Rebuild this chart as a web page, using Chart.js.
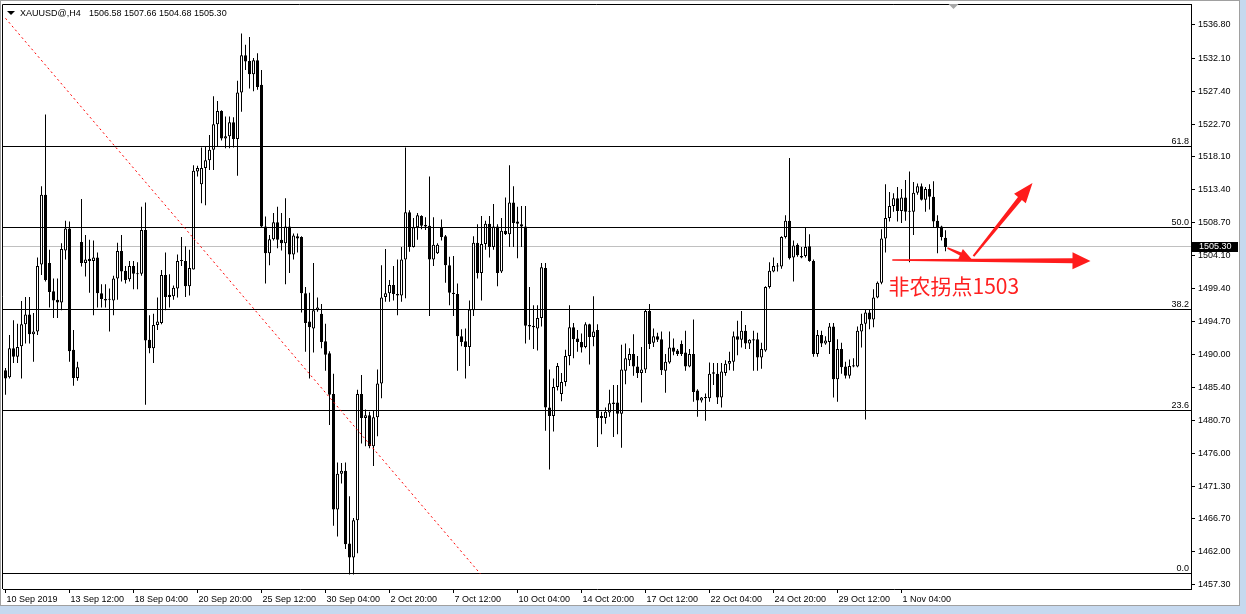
<!DOCTYPE html>
<html>
<head>
<meta charset="utf-8">
<script src="https://cdn.jsdelivr.net/npm/chart.js@4.4.1/dist/chart.umd.min.js"></script>
<style>
  html, body { margin: 0; padding: 0; background: #fff; }
</style>
</head>
<body>
<canvas id="priceChart" width="1246" height="614"></canvas>
<script>
// XAUUSD H4 candles (bar 0 = 10 Sep 2019 20:00)
const opens = [
  1487.8, 1486.8, 1490.9, 1489.7, 1491.2, 1494.3, 1495.7, 1492.9, 1493.3, 1502.8, 1512.7, 1503.0,
  1499.0, 1497.8, 1497.4, 1504.8, 1507.9, 1490.7, 1486.7, 1506.0, 1503.0, 1503.6, 1503.3, 1503.8,
  1498.7, 1497.9, 1497.9, 1497.7, 1500.8, 1504.7, 1501.9, 1500.7, 1502.6, 1501.5, 1501.5, 1507.7,
  1492.1, 1490.9, 1494.2, 1494.5, 1501.3, 1498.5, 1498.3, 1499.4, 1503.3, 1503.3, 1499.7, 1502.1,
  1516.0, 1514.2, 1516.5, 1517.6, 1519.1, 1522.7, 1524.6, 1520.7, 1521.0, 1523.0, 1520.6, 1527.2,
  1532.5, 1531.7, 1529.8, 1531.8, 1528.3, 1508.2, 1504.4, 1506.4, 1508.8, 1506.3, 1505.8, 1508.2,
  1504.2, 1506.8, 1506.7, 1498.7, 1494.7, 1493.7, 1496.3, 1495.8, 1491.9, 1490.2, 1484.4, 1468.0,
  1473.1, 1473.5, 1463.2, 1461.2, 1466.5, 1484.4, 1481.0, 1481.4, 1477.0, 1481.1, 1485.9, 1498.2,
  1498.7, 1499.9, 1498.4, 1498.4, 1503.5, 1510.2, 1505.3, 1508.1, 1509.7, 1508.4, 1508.3, 1503.5,
  1504.4, 1508.1, 1506.8, 1502.7, 1498.8, 1498.6, 1492.6, 1491.9, 1491.1, 1496.3, 1505.9, 1501.6,
  1505.7, 1508.6, 1505.3, 1508.2, 1501.8, 1507.6, 1507.1, 1511.6, 1508.9, 1508.5, 1508.2, 1494.2,
  1494.1, 1493.7, 1495.2, 1502.3, 1482.5, 1481.3, 1485.4, 1484.4, 1486.1, 1489.8, 1493.9, 1492.3,
  1491.8, 1491.1, 1494.3, 1492.5, 1493.5, 1481.3, 1481.0, 1481.8, 1483.2, 1483.2, 1481.6, 1487.7,
  1489.2, 1490.1, 1488.3, 1487.4, 1487.9, 1496.2, 1491.7, 1492.6, 1492.2, 1487.7, 1488.9, 1491.0,
  1490.6, 1491.5, 1490.3, 1488.3, 1490.1, 1484.9, 1483.5, 1484.0, 1483.8, 1487.3, 1487.3, 1483.9,
  1487.4, 1488.7, 1489.0, 1492.6, 1492.1, 1493.4, 1491.6, 1492.2, 1492.2, 1489.6, 1490.6, 1499.6,
  1501.8, 1502.5, 1502.5, 1506.7, 1509.0, 1503.8, 1505.6, 1504.0, 1504.0, 1505.4, 1503.3, 1490.1,
  1492.8, 1491.6, 1491.8, 1494.0, 1486.5, 1490.8, 1488.3, 1487.0, 1488.5, 1488.3, 1493.3, 1494.4,
  1496.0, 1495.0, 1498.1, 1500.2, 1506.5, 1509.4, 1511.1, 1512.2, 1510.4, 1512.3, 1510.3, 1510.3,
  1513.0, 1513.9, 1512.0, 1513.5, 1512.4, 1509.0, 1508.2, 1506.58
];
const highs = [
  1488.1, 1492.8, 1494.9, 1494.4, 1497.6, 1498.2, 1498.2, 1495.9, 1503.8, 1513.9, 1524.1, 1504.9,
  1500.8, 1500.8, 1505.8, 1509.0, 1508.9, 1493.5, 1489.0, 1512.1, 1507.0, 1506.3, 1506.2, 1504.5,
  1500.0, 1500.0, 1499.4, 1501.2, 1505.9, 1507.0, 1502.6, 1503.3, 1503.3, 1503.1, 1511.0, 1511.6,
  1495.6, 1495.8, 1498.1, 1502.0, 1504.5, 1501.4, 1499.8, 1504.2, 1506.7, 1505.4, 1504.9, 1516.9,
  1516.8, 1519.4, 1519.5, 1521.2, 1526.7, 1526.0, 1524.7, 1523.8, 1523.8, 1523.7, 1528.9, 1535.6,
  1534.0, 1535.1, 1532.1, 1532.8, 1530.4, 1509.6, 1507.0, 1510.1, 1511.0, 1510.1, 1512.2, 1509.4,
  1507.2, 1507.2, 1506.8, 1499.6, 1498.8, 1503.0, 1498.1, 1497.2, 1494.4, 1490.5, 1487.3, 1474.7,
  1474.6, 1474.7, 1469.9, 1466.8, 1485.0, 1487.1, 1482.2, 1481.9, 1482.1, 1487.9, 1502.7, 1505.0,
  1500.6, 1502.6, 1503.5, 1505.3, 1519.4, 1510.5, 1509.4, 1510.1, 1509.8, 1509.5, 1515.3, 1509.5,
  1505.8, 1509.2, 1507.0, 1503.9, 1504.0, 1500.1, 1493.6, 1493.7, 1497.7, 1506.8, 1508.5, 1509.7,
  1509.0, 1509.7, 1511.4, 1508.5, 1509.4, 1512.3, 1516.9, 1513.9, 1511.0, 1511.1, 1511.1, 1499.6,
  1497.0, 1497.0, 1503.0, 1503.0, 1487.9, 1486.6, 1488.8, 1487.4, 1490.7, 1497.0, 1494.5, 1493.5,
  1493.0, 1494.6, 1494.4, 1498.3, 1494.3, 1481.9, 1482.5, 1485.0, 1485.7, 1485.7, 1491.4, 1491.6,
  1490.9, 1492.9, 1489.8, 1491.1, 1496.4, 1497.2, 1493.7, 1493.1, 1493.3, 1490.1, 1493.3, 1492.3,
  1490.8, 1492.0, 1493.4, 1490.8, 1495.0, 1485.1, 1484.0, 1484.5, 1488.9, 1488.8, 1488.8, 1488.8,
  1489.2, 1490.4, 1493.3, 1494.8, 1496.2, 1494.2, 1492.2, 1493.4, 1493.1, 1491.7, 1499.7, 1503.1,
  1503.8, 1503.0, 1506.8, 1509.8, 1517.9, 1506.2, 1505.8, 1505.3, 1508.1, 1507.1, 1503.5, 1493.5,
  1493.4, 1492.6, 1494.5, 1494.5, 1492.2, 1491.7, 1489.0, 1489.3, 1489.5, 1494.0, 1495.8, 1496.4,
  1496.4, 1499.3, 1500.4, 1507.8, 1514.2, 1513.1, 1512.9, 1513.8, 1513.5, 1514.8, 1516.0, 1514.5,
  1514.3, 1514.3, 1513.8, 1514.2, 1514.6, 1509.8, 1508.3, 1507.66
];
const lows = [
  1484.3, 1486.6, 1488.8, 1488.8, 1486.6, 1491.6, 1491.6, 1489.0, 1492.8, 1501.3, 1500.4, 1496.7,
  1495.2, 1495.2, 1496.3, 1503.5, 1489.0, 1485.6, 1486.3, 1502.5, 1501.1, 1498.8, 1495.6, 1496.7,
  1496.7, 1496.7, 1493.3, 1495.6, 1497.8, 1500.4, 1500.1, 1500.4, 1499.3, 1499.3, 1501.2, 1482.9,
  1490.2, 1488.8, 1493.5, 1494.3, 1496.3, 1496.7, 1497.8, 1498.1, 1502.6, 1498.2, 1498.4, 1502.1,
  1515.3, 1511.5, 1511.2, 1516.2, 1516.2, 1519.5, 1520.4, 1519.3, 1519.3, 1519.4, 1515.4, 1524.5,
  1530.4, 1527.8, 1527.4, 1527.6, 1508.0, 1500.1, 1502.7, 1506.2, 1505.1, 1504.8, 1500.0, 1501.6,
  1503.5, 1504.5, 1496.0, 1490.4, 1486.6, 1490.3, 1496.1, 1490.9, 1487.7, 1480.0, 1465.7, 1464.2,
  1471.7, 1462.4, 1458.8, 1458.8, 1461.8, 1477.4, 1477.0, 1476.7, 1474.2, 1478.4, 1483.8, 1497.5,
  1497.5, 1497.7, 1495.6, 1497.5, 1498.0, 1504.6, 1505.2, 1506.3, 1507.8, 1507.7, 1495.5, 1502.6,
  1504.3, 1506.2, 1500.2, 1497.0, 1495.5, 1487.7, 1491.2, 1486.6, 1488.4, 1495.5, 1500.8, 1497.7,
  1504.9, 1503.8, 1504.9, 1499.7, 1501.6, 1507.0, 1505.3, 1505.3, 1503.7, 1505.3, 1491.6, 1492.1,
  1490.8, 1490.6, 1494.0, 1479.2, 1473.7, 1479.1, 1484.9, 1483.4, 1485.5, 1488.5, 1489.5, 1490.4,
  1490.3, 1490.9, 1488.6, 1491.2, 1476.9, 1478.7, 1480.2, 1481.2, 1478.3, 1478.7, 1476.8, 1485.8,
  1488.4, 1487.0, 1486.7, 1483.2, 1487.4, 1490.8, 1491.1, 1491.8, 1487.1, 1484.6, 1488.7, 1489.9,
  1489.8, 1489.8, 1487.7, 1488.2, 1483.3, 1481.2, 1483.2, 1480.6, 1483.3, 1485.7, 1483.0, 1482.5,
  1487.0, 1487.8, 1487.7, 1489.9, 1491.0, 1490.8, 1490.8, 1487.7, 1487.7, 1488.0, 1490.4, 1499.4,
  1501.7, 1501.8, 1502.2, 1506.5, 1503.5, 1500.4, 1503.9, 1503.7, 1503.8, 1503.2, 1489.7, 1489.7,
  1491.1, 1491.4, 1490.1, 1483.9, 1483.3, 1487.3, 1486.6, 1486.6, 1488.2, 1488.2, 1491.0, 1480.8,
  1493.6, 1493.9, 1498.0, 1500.0, 1504.5, 1508.9, 1510.3, 1508.9, 1508.7, 1509.0, 1503.1, 1507.0,
  1512.7, 1511.9, 1510.3, 1510.6, 1508.0, 1504.4, 1506.2, 1504.68
];
const closes = [
  1486.6, 1490.9, 1489.7, 1491.1, 1494.3, 1495.7, 1492.9, 1493.3, 1502.6, 1512.7, 1500.6, 1498.9,
  1497.7, 1497.4, 1505.0, 1507.9, 1490.5, 1486.7, 1488.2, 1503.0, 1503.5, 1503.3, 1503.8, 1498.7,
  1497.9, 1497.7, 1497.8, 1500.8, 1504.7, 1501.8, 1500.6, 1502.6, 1501.5, 1501.4, 1507.7, 1492.0,
  1490.9, 1494.2, 1494.7, 1501.3, 1498.2, 1498.2, 1499.5, 1503.3, 1503.4, 1499.7, 1502.3, 1516.1,
  1516.5, 1516.5, 1517.6, 1519.1, 1522.7, 1524.6, 1520.7, 1521.0, 1523.0, 1520.6, 1527.2, 1532.5,
  1531.6, 1529.8, 1531.8, 1528.0, 1508.2, 1504.4, 1506.4, 1508.8, 1506.3, 1505.8, 1508.2, 1504.2,
  1506.9, 1506.5, 1498.7, 1494.5, 1493.9, 1496.3, 1496.7, 1491.8, 1490.0, 1484.3, 1468.0, 1473.1,
  1473.5, 1463.1, 1461.2, 1466.5, 1484.4, 1481.0, 1481.4, 1477.0, 1481.1, 1485.9, 1498.1, 1498.7,
  1499.9, 1498.6, 1498.6, 1503.5, 1510.2, 1505.3, 1508.1, 1509.8, 1508.3, 1508.2, 1503.5, 1505.6,
  1505.6, 1506.7, 1502.7, 1498.8, 1498.6, 1492.6, 1491.8, 1491.1, 1496.4, 1505.9, 1501.6, 1505.7,
  1508.6, 1505.3, 1508.2, 1501.6, 1507.6, 1507.1, 1511.6, 1508.7, 1508.6, 1508.2, 1494.1, 1494.0,
  1493.9, 1495.2, 1502.4, 1482.5, 1481.3, 1485.4, 1488.4, 1486.1, 1489.8, 1493.9, 1492.2, 1491.8,
  1491.0, 1494.3, 1492.5, 1493.3, 1481.0, 1481.0, 1481.9, 1483.1, 1483.0, 1481.6, 1487.9, 1489.5,
  1490.1, 1488.3, 1487.4, 1487.9, 1496.2, 1491.5, 1492.6, 1492.1, 1487.8, 1489.0, 1491.0, 1490.4,
  1490.1, 1490.1, 1488.3, 1490.1, 1484.7, 1483.5, 1483.9, 1483.8, 1487.3, 1487.5, 1483.9, 1487.6,
  1488.7, 1489.1, 1492.6, 1492.1, 1493.4, 1491.6, 1492.1, 1492.0, 1489.6, 1490.8, 1499.6, 1501.9,
  1502.6, 1502.6, 1506.7, 1509.0, 1503.7, 1505.5, 1504.1, 1503.8, 1505.3, 1503.3, 1490.1, 1492.8,
  1491.6, 1492.0, 1494.0, 1486.5, 1490.8, 1488.2, 1487.0, 1488.4, 1488.3, 1493.4, 1494.4, 1496.0,
  1495.0, 1498.1, 1500.2, 1506.5, 1509.4, 1511.1, 1512.2, 1510.4, 1512.3, 1510.3, 1510.4, 1513.0,
  1513.9, 1512.0, 1513.5, 1512.4, 1508.9, 1508.1, 1506.7, 1505.30
];

// time axis: a label every 16 bars
const tickBars = [0, 16, 32, 48, 64, 80, 96, 112, 128, 144, 160, 176, 192, 208, 224];
const tickLabels = [
  "10 Sep 2019", "13 Sep 12:00", "18 Sep 04:00", "20 Sep 20:00", "25 Sep 12:00",
  "30 Sep 04:00", "2 Oct 20:00", "7 Oct 12:00", "10 Oct 04:00", "14 Oct 20:00",
  "17 Oct 12:00", "22 Oct 04:00", "24 Oct 20:00", "29 Oct 12:00", "1 Nov 04:00"
];
const priceTicks = [
  1536.80, 1532.10, 1527.40, 1522.70, 1518.10, 1513.40, 1508.70, 1504.10, 1499.40,
  1494.70, 1490.00, 1485.40, 1480.70, 1476.00, 1471.30, 1466.70, 1462.00, 1457.30
];

// fibonacci retracement levels
const fibLevels = [61.8, 50.0, 38.2, 23.6, 0.0];
const fibPrices = [1519.5, 1508.0, 1496.4, 1482.05, 1458.86];

// drawn objects, in [bar, price]
const trendLine = [[0, 1537.75], [118.75, 1458.86]];
const arrows = [
  [[221.7, 1503.44], [271.25, 1503.3]],
  [[235.5, 1505.14], [241.5, 1503.58]],
  [[242.0, 1503.99], [256.75, 1514.37]]
];
const noteText = "非农拐点1503";
const notePos = [220.75, 1498.6];
const symbolName = "XAUUSD@,H4";
const shiftBar = 237;

const fontFamily = "'Liberation Sans', Arial, sans-serif";
const last = closes.length - 1;
const bars = closes.map((_, i) => i);
const ctx = document.getElementById("priceChart").getContext("2d");

const crisp = v => Math.floor(v) + 0.5;

// Arrow with tapered shaft, as the terminal draws them
function drawArrow(c, x1, y1, x2, y2, w1, w2, headLen, headHalf) {
  const len = Math.hypot(x2 - x1, y2 - y1);
  const ux = (x2 - x1) / len, uy = (y2 - y1) / len;
  const nx = -uy, ny = ux;
  const bx = x2 - ux * headLen, by = y2 - uy * headLen;
  c.beginPath();
  c.moveTo(x1 + nx * w1 / 2, y1 + ny * w1 / 2);
  c.lineTo(bx + nx * w2 / 2, by + ny * w2 / 2);
  c.lineTo(bx + nx * headHalf, by + ny * headHalf);
  c.lineTo(x2, y2);
  c.lineTo(bx - nx * headHalf, by - ny * headHalf);
  c.lineTo(bx - nx * w2 / 2, by - ny * w2 / 2);
  c.lineTo(x1 - nx * w1 / 2, y1 - ny * w1 / 2);
  c.closePath();
  c.fill();
}

const mt4Look = {
  id: "mt4Look",
  beforeDraw(chart) {
    const c = chart.ctx;
    c.save();
    c.fillStyle = "#fff";
    c.fillRect(0, 0, chart.width, chart.height);
    c.fillStyle = "#c6d9ef";
    c.fillRect(1240, 0, chart.width - 1240, chart.height);
    c.fillRect(0, 606, chart.width, chart.height - 606);
    c.strokeStyle = "#a0a0a0";
    c.lineWidth = 1;
    c.beginPath();
    c.moveTo(0.5, 0); c.lineTo(0.5, 606);
    c.moveTo(0, 0.5); c.lineTo(1240, 0.5);
    c.moveTo(1239.5, 0); c.lineTo(1239.5, 606);
    c.moveTo(0, 605.5); c.lineTo(1240, 605.5);
    c.stroke();
    c.restore();
  },
  beforeDatasetsDraw(chart) {
    const c = chart.ctx, a = chart.chartArea, ys = chart.scales.y;
    // bid line
    const y = crisp(ys.getPixelForValue(closes[last]));
    c.save();
    c.strokeStyle = "#c0c0c0";
    c.lineWidth = 1;
    c.beginPath();
    c.moveTo(a.left, y);
    c.lineTo(a.right, y);
    c.stroke();
    c.restore();
  },
  afterDatasetsDraw(chart) {
    const c = chart.ctx, a = chart.chartArea;
    const xs = chart.scales.x, ys = chart.scales.y;
    c.save();

    // fibo lines + level labels
    c.strokeStyle = "#000";
    c.fillStyle = "#000";
    c.lineWidth = 1;
    c.font = "9px " + fontFamily;
    c.textAlign = "right";
    c.textBaseline = "alphabetic";
    fibPrices.forEach((p, k) => {
      const y = crisp(ys.getPixelForValue(p));
      c.beginPath();
      c.moveTo(a.left, y);
      c.lineTo(a.right, y);
      c.stroke();
      c.fillText(fibLevels[k].toFixed(1), a.right - 2, y - 2.5);
    });

    // red dotted trend line
    c.beginPath();
    c.rect(a.left, a.top, a.right - a.left, a.bottom - a.top);
    c.clip();
    c.strokeStyle = "#ff0000";
    c.setLineDash([2, 3]);
    c.beginPath();
    c.moveTo(xs.getPixelForValue(trendLine[0][0]), ys.getPixelForValue(trendLine[0][1]));
    c.lineTo(xs.getPixelForValue(trendLine[1][0]), ys.getPixelForValue(trendLine[1][1]));
    c.stroke();
    c.setLineDash([]);

    // arrows
    c.fillStyle = "#ff1c1c";
    const sizes = [[1.5, 5, 18, 8.5], [1.5, 3.5, 12, 5.5], [2, 5, 20, 7.5]];
    arrows.forEach((ar, k) => {
      const s = sizes[k];
      drawArrow(c,
        xs.getPixelForValue(ar[0][0]), ys.getPixelForValue(ar[0][1]),
        xs.getPixelForValue(ar[1][0]), ys.getPixelForValue(ar[1][1]),
        s[0], s[1], s[2], s[3]);
    });

    // note
    c.fillStyle = "#ff2020";
    c.font = "21px 'Noto Sans CJK SC', sans-serif";
    c.textAlign = "left";
    c.fillText(noteText, xs.getPixelForValue(notePos[0]), ys.getPixelForValue(notePos[1]));
    c.restore();

    // left / top frame
    c.save();
    c.strokeStyle = "#000";
    c.lineWidth = 1;
    c.beginPath();
    c.moveTo(a.left - 0.5, a.bottom);
    c.lineTo(a.left - 0.5, a.top + 0.5);
    c.lineTo(a.right, a.top + 0.5);
    c.stroke();
    c.restore();
  },
  afterDraw(chart) {
    const c = chart.ctx, a = chart.chartArea;
    const xs = chart.scales.x, ys = chart.scales.y;
    c.save();
    // title
    c.fillStyle = "#000";
    c.beginPath();
    c.moveTo(7, 11); c.lineTo(15, 11); c.lineTo(11, 15);
    c.closePath();
    c.fill();
    c.font = "9px " + fontFamily;
    c.textAlign = "left";
    c.textBaseline = "alphabetic";
    c.fillText(symbolName, 20, 16);
    const ohlc = [opens[last], highs[last], lows[last], closes[last]].map(v => v.toFixed(2)).join(" ");
    c.fillText(ohlc, 89, 16);

    // shift marker
    const sx = xs.getPixelForValue(shiftBar);
    c.fillStyle = "#a8a8a8";
    c.beginPath();
    c.moveTo(sx - 5, 4); c.lineTo(sx + 5, 4); c.lineTo(sx, 9);
    c.closePath();
    c.fill();

    // bid price tag
    const y = ys.getPixelForValue(closes[last]);
    c.fillStyle = "#000";
    c.fillRect(a.right + 1, Math.round(y) - 5, 46, 10);
    c.fillStyle = "#fff";
    c.textBaseline = "middle";
    c.fillText(closes[last].toFixed(2), a.right + 8, Math.round(y));
    c.restore();
  }
};

new Chart(ctx, {
  type: "bar",
  data: {
    datasets: [
      {
        label: "body",
        data: bars.map(i => ({ x: i, y: [opens[i], closes[i]] })),
        backgroundColor: bars.map(i => (closes[i] >= opens[i] ? "#ffffff" : "#000000")),
        borderColor: "#000",
        borderWidth: 1,
        borderSkipped: false,
        barThickness: 3,
        minBarLength: 1,
        inflateAmount: 0,
        grouped: false,
        order: 0
      },
      {
        label: "wick",
        data: bars.map(i => ({ x: i, y: [lows[i], highs[i]] })),
        backgroundColor: "#000",
        borderWidth: 0,
        barThickness: 1,
        inflateAmount: 0,
        grouped: false,
        order: 1
      }
    ]
  },
  options: {
    responsive: false,
    animation: false,
    events: [],
    layout: { padding: { left: 3, top: 4, right: 0, bottom: 0 } },
    plugins: {
      legend: { display: false },
      tooltip: { enabled: false }
    },
    scales: {
      x: {
        type: "linear",
        min: -0.625,
        max: 296.375,
        offset: false,
        grid: { display: true, offset: false, drawOnChartArea: false, drawTicks: true, tickLength: 4, color: "#000" },
        border: { display: true, color: "#000" },
        ticks: {
          autoSkip: false,
          maxRotation: 0,
          align: "start",
          labelOffset: 1,
          padding: 1,
          color: "#000",
          font: { family: fontFamily, size: 9 },
          callback: (value, index) => tickLabels[index]
        },
        afterBuildTicks: scale => { scale.ticks = tickBars.map(v => ({ value: v })); },
        afterFit: scale => {
          scale.height = 25;
          scale.paddingLeft = 0;
          scale.paddingRight = 0;
        }
      },
      y: {
        position: "right",
        min: 1456.73,
        max: 1539.78,
        beginAtZero: false,
        grid: { display: true, drawOnChartArea: false, drawTicks: true, tickLength: 4, color: "#000" },
        border: { display: true, color: "#000" },
        ticks: {
          autoSkip: false,
          padding: 3,
          color: "#000",
          font: { family: fontFamily, size: 9 },
          callback: value => Number(value).toFixed(2)
        },
        afterBuildTicks: scale => { scale.ticks = priceTicks.map(v => ({ value: v })); },
        afterFit: scale => {
          scale.width = 55;
          scale.paddingTop = 0;
          scale.paddingBottom = 0;
        }
      }
    }
  },
  plugins: [mt4Look]
});
</script>
</body>
</html>
